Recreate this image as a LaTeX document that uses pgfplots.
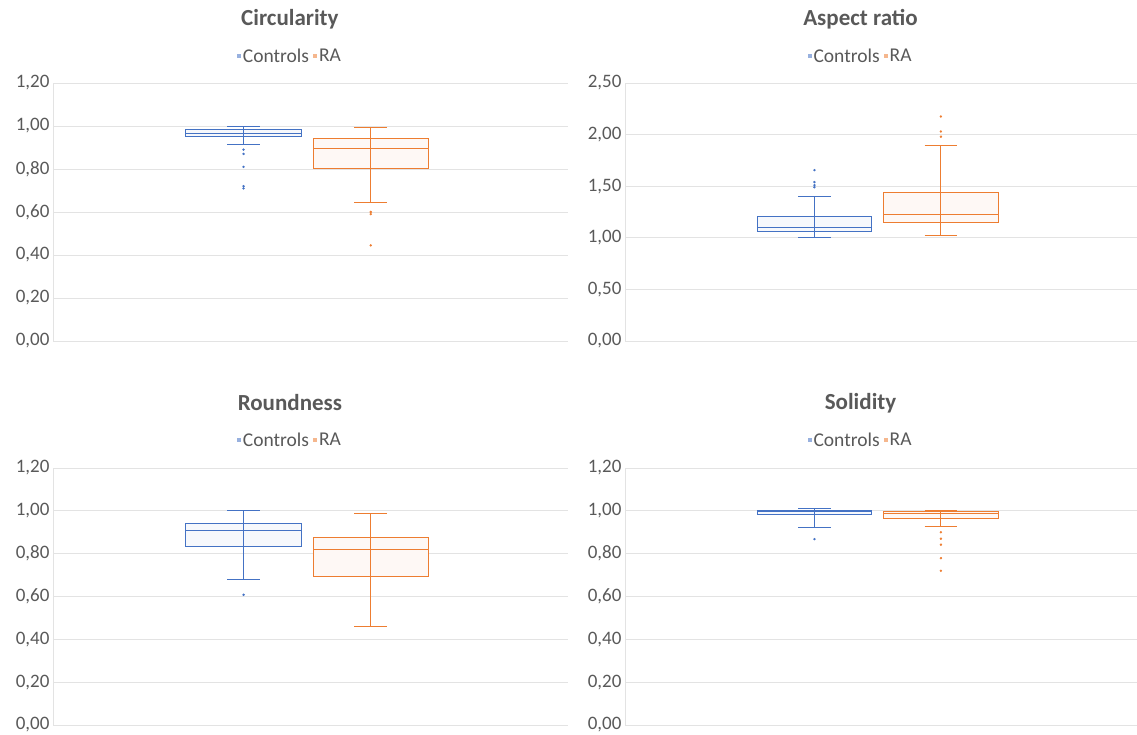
\documentclass[border=0pt]{standalone}
\usepackage{fontspec}
\setmainfont{Carlito}
\usepackage{pgfplots}
\pgfplotsset{compat=1.18}
\usepgfplotslibrary{statistics}
\definecolor{ctrl}{HTML}{4472C4}
\definecolor{ra}{HTML}{ED7D31}
\definecolor{txt}{HTML}{595959}
\definecolor{grd}{HTML}{E3E3E3}
\pgfplotsset{
  panel/.style={
    scale only axis, width=515pt, height=258pt,
    xmin=0, xmax=1, ymin=0,
    axis x line=none, axis y line*=left,
    y axis line style={grd, line width=0.8pt, -},
    ymajorgrids, grid style={grd, line width=0.8pt},
    major tick length=0pt,
    boxplot/draw direction=y,
    yticklabel style={font=\fontsize{19}{21}\selectfont, text=txt},
    /pgf/number format/fixed, /pgf/number format/fixed zerofill,
    /pgf/number format/precision=2, /pgf/number format/use comma,
    /pgf/number format/assume math mode=true,
    title style={at={(axis description cs:0.46,1)}, anchor=center, yshift=58pt,
      font=\bfseries\fontsize{23}{25}\selectfont, text=txt},
    legend style={draw=none, fill=none, at={(axis description cs:0.46,1)}, anchor=center,
      yshift=27pt, font=\fontsize{19.5}{21}\selectfont, text=txt, inner sep=0pt,
      /tikz/every even column/.append style={column sep=2pt},
      /tikz/every odd column/.append style={column sep=0pt}},
    legend columns=2,
    legend image code/.code={\fill[##1] (0pt,-2pt) rectangle (4pt,2pt);},
  },
  cbox/.style={ctrl, fill=ctrl!5, line width=0.9pt, mark=*, mark size=1pt,
    mark options={ctrl, fill=ctrl, line width=0.4pt}, forget plot},
  rbox/.style={ra, fill=ra!5, line width=0.9pt, mark=*, mark size=1pt,
    mark options={ra, fill=ra, line width=0.4pt}, forget plot},
}
\begin{document}
\begin{tikzpicture}
\useasboundingbox (0,0) rectangle (1137pt,735pt);

% ---------------- Circularity ----------------
\begin{axis}[panel, at={(53pt,394pt)}, anchor=south west, width=515pt,
  ymax=1.2, ytick={0,0.2,0.4,0.6,0.8,1.0,1.2}, title={Circularity}]
\addlegendimage{fill=ctrl!55, draw=none}\addlegendentry{Controls}
\addlegendimage{fill=ra!55, draw=none}\addlegendentry{RA}
\addplot[cbox, boxplot prepared={draw position=0.37, median=0.966,
  lower quartile=0.951, upper quartile=0.982, lower whisker=0.912,
  upper whisker=1.0, box extend=0.224, whisker extend=0.064}]
  table[row sep=\\, y index=0]{y\\0.89\\0.87\\0.81\\0.72\\0.71\\};
\addplot[ctrl, line width=0.9pt, forget plot] coordinates {(0.37,0.951) (0.37,0.982)};
\addplot[rbox, boxplot prepared={draw position=0.617, median=0.896,
  lower quartile=0.803, upper quartile=0.943, lower whisker=0.644,
  upper whisker=0.993, box extend=0.224, whisker extend=0.064}]
  table[row sep=\\, y index=0]{y\\0.60\\0.59\\0.445\\};
\addplot[ra, line width=0.9pt, forget plot] coordinates {(0.617,0.803) (0.617,0.943)};
\end{axis}

% ---------------- Aspect ratio ----------------
\begin{axis}[panel, at={(625pt,394pt)}, anchor=south west, width=512pt,
  ymax=2.5, ytick={0,0.5,1.0,1.5,2.0,2.5}, title={Aspect ratio}]
\addlegendimage{fill=ctrl!55, draw=none}\addlegendentry{Controls}
\addlegendimage{fill=ra!55, draw=none}\addlegendentry{RA}
\addplot[cbox, boxplot prepared={draw position=0.37, median=1.104,
  lower quartile=1.065, upper quartile=1.208, lower whisker=1.006,
  upper whisker=1.396, box extend=0.224, whisker extend=0.064}]
  table[row sep=\\, y index=0]{y\\1.49\\1.51\\1.54\\1.656\\};
\addplot[ctrl, line width=0.9pt, forget plot] coordinates {(0.37,1.065) (0.37,1.208)};
\addplot[rbox, boxplot prepared={draw position=0.617, median=1.227,
  lower quartile=1.146, upper quartile=1.438, lower whisker=1.023,
  upper whisker=1.893, box extend=0.224, whisker extend=0.064}]
  table[row sep=\\, y index=0]{y\\1.98\\2.03\\2.175\\};
\addplot[ra, line width=0.9pt, forget plot] coordinates {(0.617,1.146) (0.617,1.438)};
\end{axis}

% ---------------- Roundness ----------------
\begin{axis}[panel, at={(53pt,10pt)}, anchor=south west, width=515pt, height=257pt,
  ymax=1.2, ytick={0,0.2,0.4,0.6,0.8,1.0,1.2}, title={Roundness},
  title style={yshift=1pt}, legend style={yshift=1pt}]
\addlegendimage{fill=ctrl!55, draw=none}\addlegendentry{Controls}
\addlegendimage{fill=ra!55, draw=none}\addlegendentry{RA}
\addplot[cbox, boxplot prepared={draw position=0.37, median=0.907,
  lower quartile=0.834, upper quartile=0.940, lower whisker=0.681,
  upper whisker=1.0, box extend=0.224, whisker extend=0.064}]
  table[row sep=\\, y index=0]{y\\0.608\\};
\addplot[ctrl, line width=0.9pt, forget plot] coordinates {(0.37,0.834) (0.37,0.940)};
\addplot[rbox, boxplot prepared={draw position=0.617, median=0.818,
  lower quartile=0.694, upper quartile=0.877, lower whisker=0.460,
  upper whisker=0.986, box extend=0.224, whisker extend=0.064}]
  table[row sep=\\, y index=0]{y\\};
\addplot[ra, line width=0.9pt, forget plot] coordinates {(0.617,0.694) (0.617,0.877)};
\end{axis}

% ---------------- Solidity ----------------
\begin{axis}[panel, at={(625pt,10pt)}, anchor=south west, width=512pt, height=257pt,
  ymax=1.2, ytick={0,0.2,0.4,0.6,0.8,1.0,1.2}, title={Solidity},
  title style={yshift=1pt}, legend style={yshift=1pt}]
\addlegendimage{fill=ctrl!55, draw=none}\addlegendentry{Controls}
\addlegendimage{fill=ra!55, draw=none}\addlegendentry{RA}
\addplot[cbox, boxplot prepared={draw position=0.37, median=0.997,
  lower quartile=0.985, upper quartile=1.0, lower whisker=0.923,
  upper whisker=1.01, box extend=0.224, whisker extend=0.064}]
  table[row sep=\\, y index=0]{y\\0.868\\};
\addplot[ctrl, line width=0.9pt, forget plot] coordinates {(0.37,0.985) (0.37,1.0)};
\addplot[rbox, boxplot prepared={draw position=0.617, median=0.986,
  lower quartile=0.965, upper quartile=0.995, lower whisker=0.926,
  upper whisker=1.0, box extend=0.224, whisker extend=0.064}]
  table[row sep=\\, y index=0]{y\\0.90\\0.87\\0.842\\0.779\\0.72\\};
\addplot[ra, line width=0.9pt, forget plot] coordinates {(0.617,0.965) (0.617,0.995)};
\end{axis}
\end{tikzpicture}
\end{document}
